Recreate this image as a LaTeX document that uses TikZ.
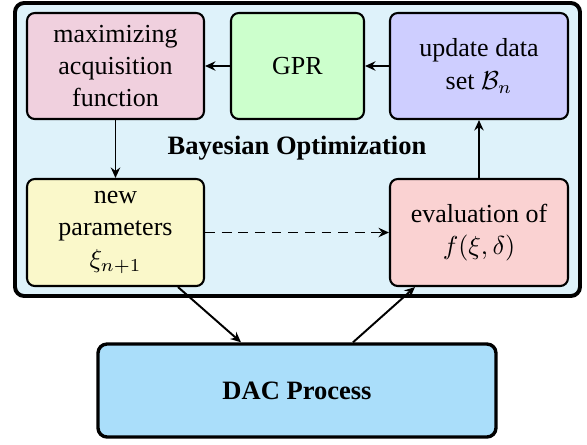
\documentclass[tikz,border=0pt]{standalone}
\usepackage[no-math]{fontspec}
\setmainfont{Liberation Serif}
\usetikzlibrary{arrows.meta}

\definecolor{outerfill}{RGB}{222,242,250}
\definecolor{acqfill}{RGB}{240,208,222}
\definecolor{gprfill}{RGB}{204,255,204}
\definecolor{updfill}{RGB}{206,206,255}
\definecolor{parfill}{RGB}{250,248,202}
\definecolor{evafill}{RGB}{250,210,210}
\definecolor{dacfill}{RGB}{170,222,250}

% one drawing unit
\newcommand\pxu{0.3846pt}

\tikzset{
  stagebox/.style={draw, rounded corners=3pt, line width=0.8pt, align=center,
    inner sep=1pt, font=\fontsize{10}{12.4}\selectfont},
  arr/.style={line width=0.75pt, -{Stealth[length=4pt,width=3.6pt,inset=1.3pt]}},
}

\begin{document}
\begin{tikzpicture}[x=\pxu, y=-\pxu]
\useasboundingbox (0,0) rectangle (587,445);

% Bayesian optimization frame
\node[draw, rounded corners=3.5pt, line width=1.5pt, fill=outerfill,
  minimum width={565*\pxu}, minimum height={293*\pxu}] (bo) at (297.5,149.5) {};
\node[font=\fontsize{10.2}{12}\selectfont\bfseries] (bolabel) at (297,148) {Bayesian Optimization};

% loop stages
\node[stagebox, fill=acqfill, minimum width={177*\pxu}, minimum height={106*\pxu}]
  (acq) at (115.5,66) {maximizing\\acquisition\\function};
\node[stagebox, fill=gprfill, minimum width={133*\pxu}, minimum height={106*\pxu}]
  (gpr) at (297.5,66) {GPR};
\node[stagebox, fill=updfill, minimum width={178*\pxu}, minimum height={106*\pxu}]
  (upd) at (479,66) {update data\\set $\mathcal{B}_n$};
\node[stagebox, fill=parfill, minimum width={177*\pxu}, minimum height={107*\pxu}]
  (par) at (115.5,232.5) {new\\parameters\\$\xi_{n+1}$};
\node[stagebox, fill=evafill, minimum width={178*\pxu}, minimum height={107*\pxu}]
  (eva) at (479,232.5) {evaluation of\\$f(\xi,\delta)$};

% process
\node[draw, rounded corners=3.5pt, line width=1.3pt, fill=dacfill,
  minimum width={398*\pxu}, minimum height={93*\pxu},
  font=\fontsize{10.2}{12}\selectfont\bfseries] (dac) at (297,390.5) {DAC Process};

% connectors
\draw[arr] (gpr.west) -- (acq.east);
\draw[arr] (upd.west) -- (gpr.east);
\draw[arr] (acq.south) -- (par.north);
\draw[arr] (eva.north) -- (upd.south);
\draw[arr, dashed, dash pattern=on 3.8pt off 2.6pt] (par.east) -- (eva.west);
\draw[arr] ([xshift={62.5*\pxu}]par.south) -- ([xshift={-56*\pxu}]dac.north);
\draw[arr] ([xshift={56*\pxu}]dac.north) -- ([xshift={-64*\pxu}]eva.south);
\end{tikzpicture}
\end{document}
